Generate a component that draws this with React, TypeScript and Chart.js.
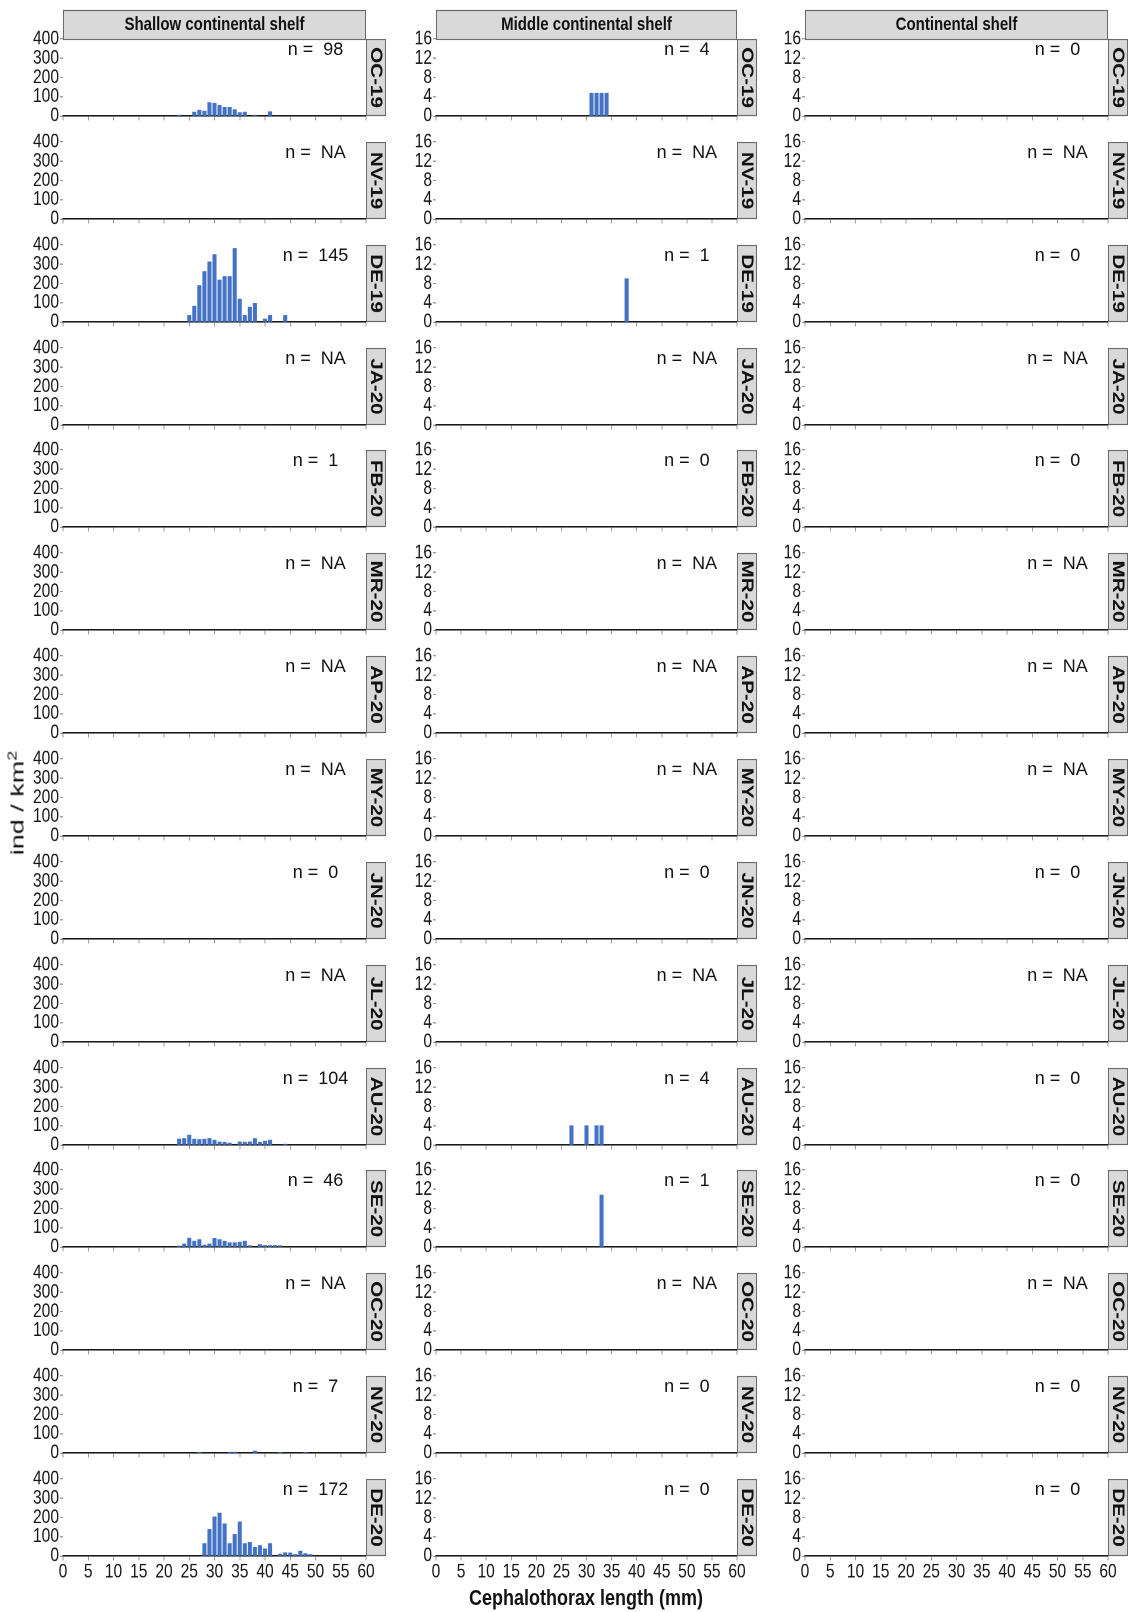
import React, { useEffect, useRef } from 'react';
import { Chart, registerables } from 'chart.js';

Chart.register(...registerables);

// ---------------- data ----------------
const months = ['OC-19', 'NV-19', 'DE-19', 'JA-20', 'FB-20', 'MR-20', 'AP-20', 'MY-20', 'JN-20', 'JL-20', 'AU-20', 'SE-20', 'OC-20', 'NV-20', 'DE-20'];
const zones = ['Shallow continental shelf', 'Middle continental shelf', 'Continental shelf'];

const nShallow = ['98', 'NA', '145', 'NA', '1', 'NA', 'NA', 'NA', '0', 'NA', '104', '46', 'NA', '7', '172'];
const nMiddle = ['4', 'NA', '1', 'NA', '0', 'NA', 'NA', 'NA', '0', 'NA', '4', '1', 'NA', '0', '0'];
const nShelf = ['0', 'NA', '0', 'NA', '0', 'NA', 'NA', 'NA', '0', 'NA', '0', '0', 'NA', '0', '0'];

const lengthMin = 0;
const lengthMax = 60;
const lengthStep = 5;
const shallowMax = 400;
const shallowStep = 100;
const deepMax = 16;
const deepStep = 4;

type Pair = [number, number]; // [cephalothorax length (mm), ind / km2]

const shallowOC19: Pair[] = [[23, 4], [26, 20], [27, 30], [28, 25], [29, 70], [30, 65], [31, 55], [32, 45], [33, 45], [34, 32], [35, 18], [36, 20], [38, 4], [41, 22]];
const shallowDE19: Pair[] = [[25, 35], [26, 82], [27, 190], [28, 262], [29, 312], [30, 350], [31, 218], [32, 236], [33, 236], [34, 382], [35, 118], [36, 35], [37, 78], [38, 97], [40, 15], [41, 35], [44, 35]];
const shallowAU20: Pair[] = [[23, 31], [24, 34], [25, 52], [26, 30], [27, 28], [28, 30], [29, 34], [30, 25], [31, 15], [32, 13], [33, 10], [35, 15], [36, 14], [37, 16], [38, 33], [39, 14], [40, 20], [41, 26], [44, 4]];
const shallowSE20: Pair[] = [[23, 5], [24, 15], [25, 46], [26, 30], [27, 38], [28, 10], [29, 15], [30, 45], [31, 38], [32, 30], [33, 22], [34, 22], [35, 25], [36, 30], [37, 6], [39, 12], [40, 8], [41, 8], [42, 8], [43, 6]];
const shallowNV20: Pair[] = [[27, 3], [33, 4], [34, 4], [38, 10], [43, 3], [48, 3]];
const shallowDE20: Pair[] = [[28, 64], [29, 139], [30, 203], [31, 222], [32, 167], [33, 64], [34, 113], [35, 177], [36, 64], [37, 71], [38, 45], [39, 54], [40, 37], [41, 64], [43, 10], [44, 17], [45, 15], [46, 7], [47, 26], [48, 12], [49, 8]];

const middleOC19: Pair[] = [[31, 4.7], [32, 4.7], [33, 4.7], [34, 4.7]];
const middleDE19: Pair[] = [[38, 9]];
const middleAU20: Pair[] = [[27, 4], [30, 4], [32, 4], [33, 4]];
const middleSE20: Pair[] = [[33, 10.8]];

const shallowBars: Record<string, Pair[]> = {
  'OC-19': shallowOC19, 'DE-19': shallowDE19, 'AU-20': shallowAU20,
  'SE-20': shallowSE20, 'NV-20': shallowNV20, 'DE-20': shallowDE20,
};
const middleBars: Record<string, Pair[]> = {
  'OC-19': middleOC19, 'DE-19': middleDE19, 'AU-20': middleAU20, 'SE-20': middleSE20,
};
const shelfBars: Record<string, Pair[]> = {};

const nByZone = [nShallow, nMiddle, nShelf];
const barsByZone = [shallowBars, middleBars, shelfBars];

// ---------------- style / layout ----------------
const SANS = "'Liberation Sans', Arial, sans-serif";
const BAR = '#4472c4';
const S = 1.25; // vertical stretch of the original figure

const COL_LEFT = [63, 436, 805];
const COL_W = [303, 301, 303];
const PLOT_H = 77;
const ROW_BOTTOM0 = 116;
const ROW_PITCH = 102.857;
const Y_AXIS_W = 50;
const STRIP_W = 20;

const panelPlugin = {
  id: 'panelDeco',
  afterDraw(chart: any, _args: any, opts: any) {
    const { ctx, chartArea: a, scales } = chart;
    ctx.save();
    // right strip
    const sx = a.right;
    ctx.fillStyle = '#d9d9d9';
    ctx.fillRect(sx, a.top, STRIP_W, a.bottom - a.top);
    ctx.strokeStyle = '#5e5e5e';
    ctx.lineWidth = 0.9;
    ctx.strokeRect(sx + 0.5, a.top + 0.4, STRIP_W - 1, a.bottom - a.top - 0.8);
    ctx.save();
    ctx.translate(sx + STRIP_W / 2, (a.top + a.bottom) / 2);
    ctx.rotate(Math.PI / 2);
    ctx.font = `bold 16.5px ${SANS}`;
    ctx.fillStyle = '#111';
    ctx.textAlign = 'center';
    ctx.textBaseline = 'middle';
    ctx.fillText(opts.month, 0, 0.5);
    ctx.restore();
    // header strip
    if (opts.header) {
      const hh = 29 / S;
      ctx.fillStyle = '#d9d9d9';
      ctx.fillRect(a.left, a.top - hh, a.right - a.left, hh);
      ctx.strokeStyle = '#5e5e5e';
      ctx.strokeRect(a.left + 0.5, a.top - hh + 0.4, a.right - a.left - 1, hh);
      ctx.font = `bold 15px ${SANS}`;
      ctx.fillStyle = '#111';
      ctx.textAlign = 'center';
      ctx.textBaseline = 'middle';
      ctx.fillText(opts.header, (a.left + a.right) / 2, a.top - hh / 2 + 0.5);
    }
    // n label (not stretched in the original)
    ctx.save();
    ctx.translate(scales.x.getPixelForValue(50), a.top + 11 / S);
    ctx.scale(1, 1 / S);
    ctx.font = `18px ${SANS}`;
    ctx.fillStyle = '#111';
    ctx.textAlign = 'center';
    ctx.textBaseline = 'middle';
    ctx.fillText(`n =  ${opts.n}`, 0, 0);
    ctx.restore();
    ctx.restore();
  },
};

function Panel({ col, row }: { col: number; row: number }) {
  const ref = useRef<HTMLCanvasElement>(null);
  const isTop = row === 0;
  const isBottom = row === months.length - 1;
  const padTop = isTop ? 44 : 14;
  const padRight = col === 2 ? 22 : 26;
  const xH = isBottom ? 34 : 14;
  const plotW = COL_W[col];
  const width = Y_AXIS_W + plotW + padRight;
  const screenH = padTop + PLOT_H + xH;
  const height = Math.round(screenH / S);
  const left = COL_LEFT[col] - Y_AXIS_W;
  const top = Math.round(ROW_BOTTOM0 + row * ROW_PITCH) - PLOT_H - padTop;

  useEffect(() => {
    const month = months[row];
    const bars = barsByZone[col][month] || [];
    const yMax = col === 0 ? shallowMax : deepMax;
    const yStep = col === 0 ? shallowStep : deepStep;
    const chart = new Chart(ref.current as HTMLCanvasElement, {
      type: 'bar',
      data: {
        datasets: [{
          data: bars.map(([x, y]) => ({ x, y })),
          backgroundColor: BAR,
          borderWidth: 0,
          barThickness: 3.4,
        }],
      },
      options: {
        responsive: false,
        maintainAspectRatio: false,
        animation: false,
        devicePixelRatio: 2,
        events: [],
        layout: { padding: { top: padTop / S, right: padRight, left: 0, bottom: 0 } },
        plugins: {
          legend: { display: false },
          tooltip: { enabled: false },
          panelDeco: { month, n: nByZone[col][row], header: isTop ? zones[col] : null },
        } as any,
        scales: {
          x: {
            type: 'linear',
            min: lengthMin,
            max: lengthMax,
            offset: false,
            ticks: {
              stepSize: lengthStep,
              display: isBottom,
              autoSkip: false,
              maxRotation: 0,
              padding: 0,
              color: '#151515',
              font: { family: SANS, size: 15.6 },
            },
            grid: { drawOnChartArea: false, drawTicks: true, tickLength: 3.5, color: '#9a9a9a', offset: false },
            border: { display: true, color: '#1a1a1a', width: 1.2 },
            afterFit: (s: any) => { s.height = xH / S; },
          },
          y: {
            type: 'linear',
            min: 0,
            max: yMax,
            ticks: {
              stepSize: yStep,
              autoSkip: false,
              padding: 1,
              color: '#151515',
              font: { family: SANS, size: 15.6 },
            },
            grid: { drawOnChartArea: false, drawTicks: true, tickLength: 3, color: '#9a9a9a' },
            border: { display: false },
            afterFit: (s: any) => { s.width = Y_AXIS_W; },
          },
        } as any,
      },
      plugins: [panelPlugin as any],
    });
    return () => chart.destroy();
  }, []);

  return (
    <div style={{
      position: 'absolute', left, top, width, height,
      transform: `scaleY(${S})`, transformOrigin: '0 0',
    }}>
      <canvas ref={ref} width={width} height={height} />
    </div>
  );
}

export default function App() {
  const panels: React.ReactNode[] = [];
  for (let c = 0; c < zones.length; c++) {
    for (let r = 0; r < months.length; r++) {
      panels.push(<Panel key={`${c}-${r}`} col={c} row={r} />);
    }
  }
  return (
    <div style={{ position: 'absolute', left: 0, top: 0, width: 1131, height: 1612, overflow: 'hidden', background: '#fff' }}>
      {panels}
      <div style={{ position: 'absolute', left: 586, top: 1597, width: 0, height: 0 }}>
        <div style={{
          position: 'absolute', left: 0, top: 0, whiteSpace: 'nowrap',
          transform: 'translate(-50%, -50%) scaleY(1.25)',
          font: `bold 18px ${SANS}`, color: '#111', lineHeight: '20px',
        }}>Cephalothorax length (mm)</div>
      </div>
      <div style={{ position: 'absolute', left: 15, top: 803, width: 0, height: 0 }}>
        <div style={{
          position: 'absolute', left: 0, top: 0, whiteSpace: 'nowrap',
          transform: 'translate(-50%, -50%) rotate(-90deg) scaleX(1.5)',
          font: `18px ${SANS}`, color: '#111', lineHeight: '20px',
        }}>ind / km<sup style={{ fontSize: '12px' }}>2</sup></div>
      </div>
    </div>
  );
}
